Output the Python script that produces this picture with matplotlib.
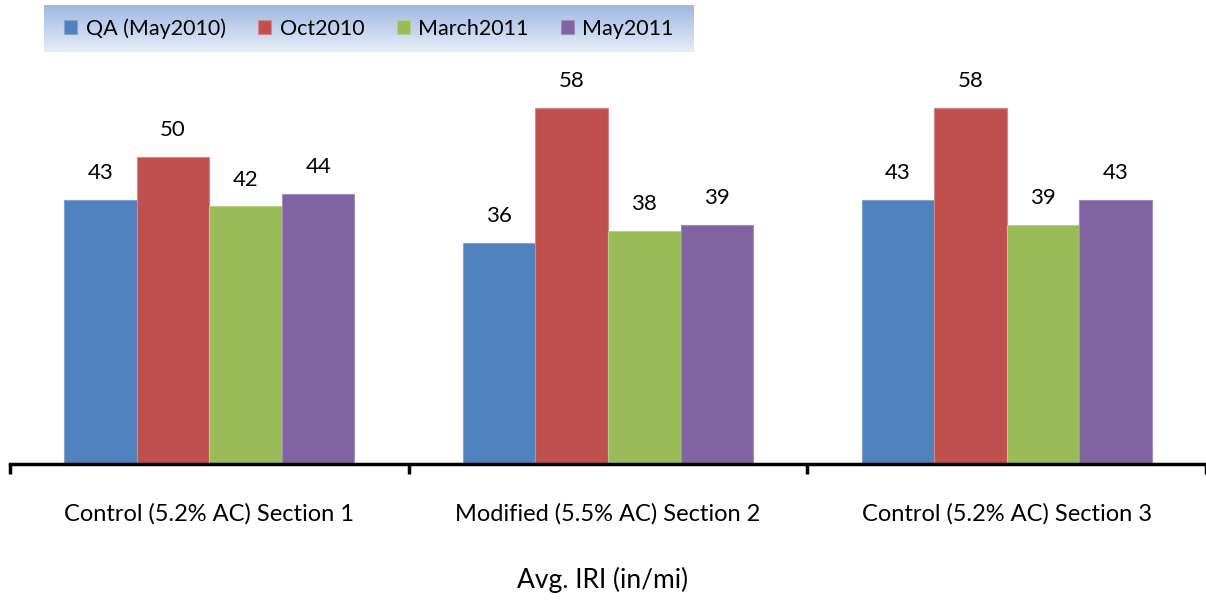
import numpy as np
import matplotlib.pyplot as plt
from matplotlib.colors import LinearSegmentedColormap

sections = ["Control (5.2% AC) Section 1", "Modified (5.5% AC) Section 2", "Control (5.2% AC) Section 3"]
series_names = ["QA (May2010)", "Oct2010", "March2011", "May2011"]
qa_may2010 = [43, 36, 43]
oct2010 = [50, 58, 58]
march2011 = [42, 38, 39]
may2011 = [44, 39, 43]
colors = ["#4F81BD", "#C0504D", "#9BBB59", "#8064A2"]
edge_colors = ["#7fa2d0", "#d48784", "#b7cf8a", "#a18dbd"]

plt.rcParams["font.family"] = ["Lato", "DejaVu Sans"]

fig = plt.figure(figsize=(12.06, 6), dpi=100)
ax = fig.add_axes([10 / 1206, 136 / 600, 1196 / 1206, 0.665])

x = np.arange(len(sections))
width = 0.182
all_series = [qa_may2010, oct2010, march2011, may2011]
for i, (vals, name) in enumerate(zip(all_series, series_names)):
    pos = x + (i - 1.5) * width
    bars = ax.bar(pos, vals, width, color=colors[i], edgecolor=edge_colors[i],
                  linewidth=0.8, label=name, zorder=2)
    for b, v in zip(bars, vals):
        ax.annotate(f"{v}", (b.get_x() + b.get_width() / 2, v), xytext=(0, 12),
                    textcoords="offset points", ha="center", va="bottom", fontsize=16)

ax.set_xlim(-0.5, 2.5)
ax.set_ylim(0, 65)
for s in ["left", "right", "top"]:
    ax.spines[s].set_visible(False)
ax.spines["bottom"].set_linewidth(2.5)
ax.set_yticks([])
ax.set_xticks([-0.5, 0.5, 1.5, 2.5])
ax.set_xticklabels([])
ax.tick_params(axis="x", length=7, width=2.5, direction="out")
for xi, name in zip(x, sections):
    ax.text(xi, -0.125, name, transform=ax.get_xaxis_transform(), ha="center",
            va="center", fontsize=17)
fig.text(0.5, 1 - 580 / 600, "Avg. IRI (in/mi)", ha="center", va="center", fontsize=19)

# legend on a gradient band
lx0, ly0, lw, lh = 44 / 1206, 1 - 52 / 600, 650 / 1206, 47 / 600
grad_ax = fig.add_axes([lx0, ly0, lw, lh], zorder=3)
cmap = LinearSegmentedColormap.from_list("band", ["#e8edf8", "#9db8e2"])
grad_ax.imshow(np.linspace(0, 1, 100).reshape(-1, 1), aspect="auto", cmap=cmap,
               origin="lower", extent=[0, 1, 0, 1])
grad_ax.set_axis_off()
handles, labels = ax.get_legend_handles_labels()
leg = fig.legend(handles, labels, loc="center", bbox_to_anchor=(lx0 + lw / 2, ly0 + lh / 2),
                 ncol=4, frameon=False, fontsize=15.5, handlelength=0.6, handleheight=0.6,
                 handletextpad=0.4, columnspacing=1.5)
leg.set_zorder(4)

fig.savefig("out.png", dpi=100)
